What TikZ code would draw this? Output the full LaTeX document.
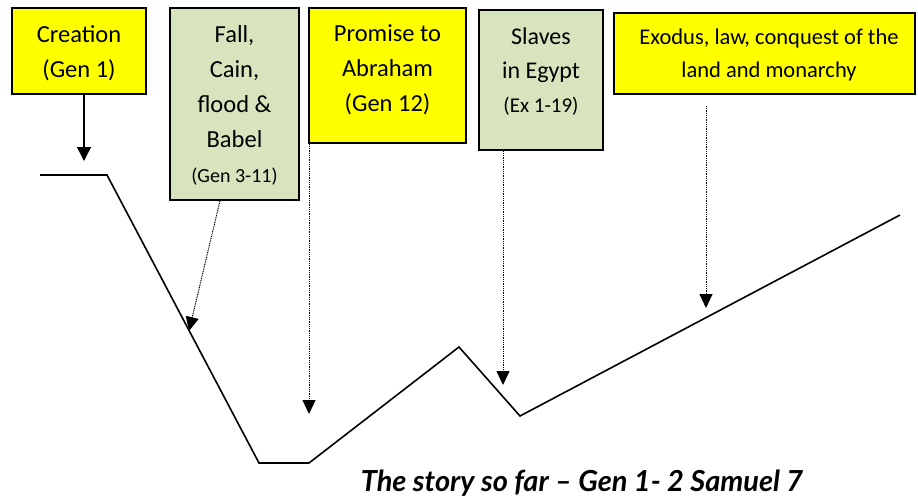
\documentclass[tikz,border=0pt]{standalone}
\usepackage{fontspec}
\setmainfont{Carlito}
\newfontfamily\titlefont{Lato}
\usetikzlibrary{arrows.meta,calc}
\definecolor{boxyellow}{RGB}{255,255,0}
\definecolor{boxgreen}{RGB}{215,228,189}
\begin{document}
\begin{tikzpicture}[x=1pt,y=-1pt,
  box/.style={draw=black,line width=2.2pt,inner sep=0pt},
  ybox/.style={box,fill=boxyellow},
  gbox/.style={box,fill=boxgreen},
  txt/.style={align=center,inner sep=0pt,font=\fontsize{24.5}{35}\selectfont},
  story/.style={line width=1.6pt,line join=miter},
  solidarrow/.style={line width=1.3pt,-{Triangle[width=14pt,length=14pt]}},
  dotarrow/.style={line width=1pt,dash pattern=on 1pt off 0.8pt,-{Triangle[width=13pt,length=14pt]}}]
\useasboundingbox (0,0) rectangle (918,499);
% boxes
\node[ybox,minimum width=134pt,minimum height=86pt] (creation) at (79,51) {};
\node[txt] (creationt) at (79,53) {Creation\\(Gen 1)};
\node[gbox,minimum width=129pt,minimum height=192pt] (fall) at (234.5,104) {};
\node[txt] (fallt) at (234.5,105) {Fall,\\Cain,\\flood \&\\Babel\\{\fontsize{20}{35}\selectfont (Gen 3-11)}};
\node[ybox,minimum width=157pt,minimum height=135pt] (promise) at (387.5,75.5) {};
\node[txt] (promiset) at (387.5,70) {Promise to\\Abraham\\(Gen 12)};
\node[gbox,minimum width=124pt,minimum height=140pt] (slaves) at (541,80) {};
\node[txt,font=\fontsize{24}{34}\selectfont] (slavest) at (541,72) {Slaves\\in Egypt\\{\fontsize{21}{34}\selectfont (Ex 1-19)}};
\node[ybox,minimum width=301pt,minimum height=81pt] (exodus) at (764.5,53.5) {};
\node[txt,font=\fontsize{22.5}{33}\selectfont] (exodust) at (769,55) {Exodus, law, conquest of the\\land and monarchy};
% story line
\coordinate (p0) at (40,175);
\coordinate (p1) at (107,175);
\coordinate (p2) at (259,463);
\coordinate (p3) at (309,463);
\coordinate (p4) at (459,347);
\coordinate (p5) at (520,416);
\coordinate (p6) at (900,215);
\draw[story] (p0) -- (p1) -- (p2) -- (p3) -- (p4) -- (p5) -- (p6);
% arrow targets
\coordinate (tc) at (84,161);
\coordinate (tf) at (189,331);
\coordinate (tp) at (309,414);
\coordinate (ts) at (503,385);
\coordinate (te) at (706,308);
\draw[solidarrow] (creation.south -| tc) -- (tc);
\draw[dotarrow] ([xshift=51pt]fall.south west) -- (tf);
\draw[dotarrow] (promise.south west -| tp) -- (tp);
\draw[dotarrow] (slaves.south -| ts) -- (ts);
\coordinate (es) at (706,106);
\draw[dotarrow] (es) -- (te);
% title
\node[font=\titlefont\bfseries\itshape\fontsize{29}{32}\selectfont,inner sep=0pt,anchor=base] (title) at (582,491) {The story so far – Gen 1- 2 Samuel 7};
\end{tikzpicture}
\end{document}
